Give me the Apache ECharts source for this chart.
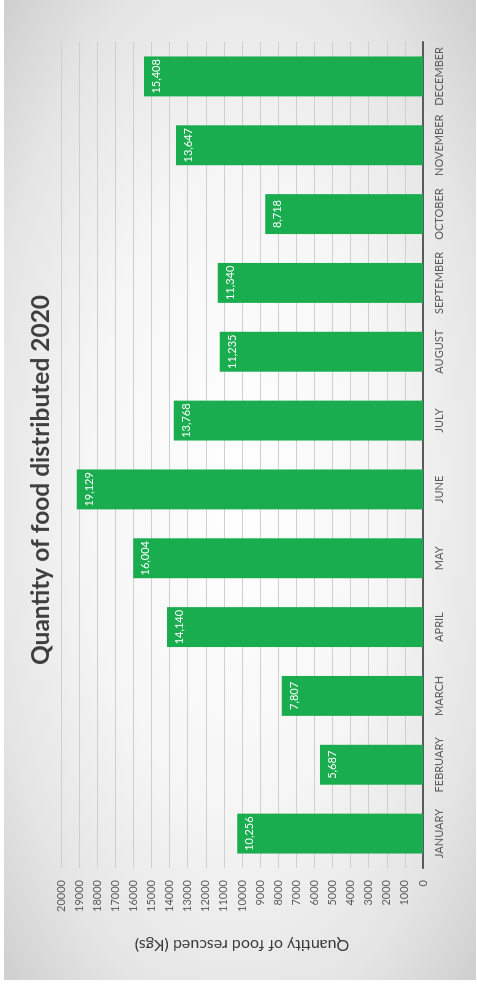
<!DOCTYPE html>
<html>
<head>
<meta charset="utf-8">
<script src="https://cdn.jsdelivr.net/npm/echarts@6/dist/echarts.min.js"></script>
<style>
  html, body { margin: 0; padding: 0; background: #ffffff; width: 477px; height: 986px; overflow: hidden; }
  #wrap {
    position: absolute; left: 4px; top: 980px;
    width: 980px; height: 472px;
    transform-origin: 0 0; transform: rotate(-90deg);
    background: radial-gradient(ellipse at 50% 50%, #ffffff 0%, #f6f6f6 45%, #e4e4e4 78%, #cfcfcf 100%);
  }
  #chart { width: 980px; height: 472px; }
</style>
</head>
<body>
<div id="wrap"><div id="chart"></div></div>
<script>
const titleText = 'Quantity of food distributed 2020';
const axisTitle = 'Quantity of food rescued (Kgs)';
const months = ['JANUARY','FEBRUARY','MARCH','APRIL','MAY','JUNE','JULY','AUGUST','SEPTEMBER','OCTOBER','NOVEMBER','DECEMBER'];
const quantities = [10256, 5687, 7807, 14140, 16004, 19129, 13768, 11235, 11340, 8718, 13647, 15408];
const valueMin = 0, valueMax = 20000, valueStep = 1000;

const chart = echarts.init(document.getElementById('chart'), null, { renderer: 'canvas' });
chart.setOption({
  backgroundColor: 'transparent',
  animation: false,
  textStyle: { fontFamily: 'Lato' },
  graphic: [{
    type: 'text', x: 500, y: 37,
    style: { text: titleText, fontFamily: 'Lato', fontWeight: 'bold', fontSize: 24.5, fill: '#3f3f3f', textAlign: 'center', textVerticalAlign: 'middle' }
  }],
  grid: { left: 112, right: 42, top: 57, bottom: 53, containLabel: false },
  xAxis: {
    type: 'category', data: months,
    axisLine: { show: true, lineStyle: { color: '#5a5a5a', width: 2 } },
    axisTick: { show: false },
    axisLabel: { color: '#5c5c5c', fontSize: 11, margin: 11, fontFamily: 'Lato', interval: 0 }
  },
  yAxis: {
    type: 'value', min: valueMin, max: valueMax, interval: valueStep,
    name: axisTitle, nameLocation: 'middle', nameGap: 69, nameRotate: 90,
    nameTextStyle: { color: '#3a3a3a', fontSize: 16, fontFamily: 'Lato' },
    axisLine: { show: false }, axisTick: { show: false },
    axisLabel: { color: '#5c5c5c', fontSize: 11, margin: 12, fontFamily: 'Lato', formatter: v => String(v) },
    splitLine: { lineStyle: { color: '#cfcfcf', width: 1 } }
  },
  series: [{
    type: 'bar', data: quantities, barCategoryGap: '42%',
    itemStyle: { color: '#1aad4f' },
    label: {
      show: true, position: 'insideTop', distance: 7, color: '#ffffff', fontSize: 11, fontFamily: 'Lato',
      formatter: p => p.value.toLocaleString('en-US')
    }
  }]
});
</script>
</body>
</html>
